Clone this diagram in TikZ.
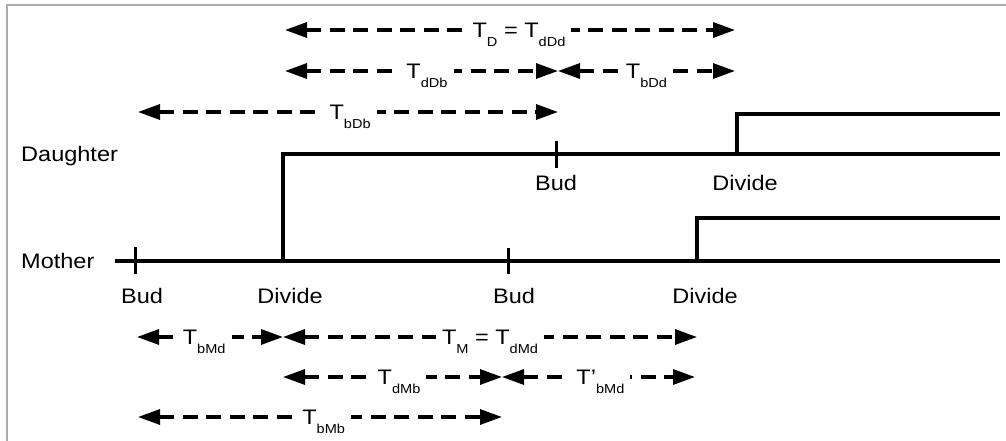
\documentclass[tikz,border=0pt]{standalone}
\usepackage{fontspec}
\setmainfont[FakeStretch=1.12]{Liberation Sans}
\usetikzlibrary{arrows.meta}
\newcommand\sbx[1]{\raisebox{-9pt}{\fontsize{13}{13}\selectfont #1}}
\tikzset{
  axis/.style={line width=3.2pt},
  tickmark/.style={line width=3pt},
  frameline/.style={line width=2pt, draw=black!33},
  span/.style={line width=3.2pt, dash pattern=on 15pt off 8.5pt,
    {Triangle[length=22pt,width=15pt]}-{Triangle[length=22pt,width=15pt]}},
  lbl/.style={font=\fontsize{21}{24}\selectfont, inner sep=0pt},
  dur/.style={fill=white, inner xsep=6pt, inner ysep=1pt, anchor=base, yshift=-7.5pt,
    font=\fontsize{21}{24}\selectfont}
}
\begin{document}
\begin{tikzpicture}[x=1pt,y=-1pt]
\useasboundingbox (0,0) rectangle (1006,441);
\draw[frameline] (7,441) -- (7,5.5) -- (1006,5.5);

% events
\coordinate (mstart) at (115,261);
\coordinate (mend) at (1000,261);
\coordinate (mB1) at (135,261);
\coordinate (mD1) at (283,261);
\coordinate (mB2) at (508,261);
\coordinate (mD2) at (697,261);
\coordinate (dD1) at (283,154);
\coordinate (dB1) at (556,154);
\coordinate (dD2) at (737,154);
\coordinate (dend) at (1000,154);
\coordinate (ddtop) at (737,114);
\coordinate (ddend) at (1000,114);
\coordinate (mdtop) at (697,218);
\coordinate (mdend) at (1000,218);

% lines
\draw[axis] (mstart) -- (mend);
\draw[axis] (mD1) -- (dD1) -- (dend);
\draw[axis] (dD2) -- (ddtop) -- (ddend);
\draw[axis] (mD2) -- (mdtop) -- (mdend);
\draw[tickmark] (135,247) -- (135,274);
\draw[tickmark] (508,248) -- (508,274);
\draw[tickmark] (556,141) -- (556,168);

% text labels
\node[lbl, anchor=west] (daughter) at (21,156) {Daughter};
\node[lbl, anchor=west] (mother) at (21,261) {Mother};
\node[lbl, anchor=base] (budM1) at (142,303) {Bud};
\node[lbl, anchor=base] (divM1) at (290,303) {Divide};
\node[lbl, anchor=base] (budM2) at (514,303) {Bud};
\node[lbl, anchor=base] (divM2) at (705,303) {Divide};
\node[lbl, anchor=base] (budD1) at (556,190) {Bud};
\node[lbl, anchor=base] (divD1) at (745,190) {Divide};

% span endpoints (top)
\coordinate (t1a) at (285,30);  \coordinate (t1b) at (735,30);
\coordinate (t2a) at (285,71);  \coordinate (t2b) at (558,71);  \coordinate (t2c) at (735,71);
\coordinate (t3a) at (138,112); \coordinate (t3b) at (558,112);
% span endpoints (bottom)
\coordinate (b1a) at (137,337); \coordinate (b1b) at (283,337); \coordinate (b1c) at (697,337);
\coordinate (b2a) at (283,377); \coordinate (b2b) at (502,377); \coordinate (b2c) at (695,377);
\coordinate (b3a) at (138,417); \coordinate (b3b) at (502,417);

\draw[span] (t1a) -- node[dur, pos=0.52] {T\sbx{D} = T\sbx{dDd}} (t1b);
\draw[span] (t2a) -- node[dur, pos=0.52] {T\sbx{dDb}} (t2b);
\draw[span] (t2b) -- node[dur, pos=0.50] {T\sbx{bDd}} (t2c);
\draw[span] (t3a) -- node[dur, pos=0.505] {T\sbx{bDb}} (t3b);

\draw[span] (b1a) -- node[dur, pos=0.46] {T\sbx{bMd}} (b1b);
\draw[span] (b1b) -- node[dur, pos=0.50] {T\sbx{M} = T\sbx{dMd}} (b1c);
\draw[span] (b2a) -- node[dur, pos=0.53] {T\sbx{dMb}} (b2b);
\draw[span] (b2b) -- node[dur, pos=0.51] {T’\sbx{bMd}} (b2c);
\draw[span] (b3a) -- node[dur, pos=0.51] {T\sbx{bMb}} (b3b);
\end{tikzpicture}
\end{document}
